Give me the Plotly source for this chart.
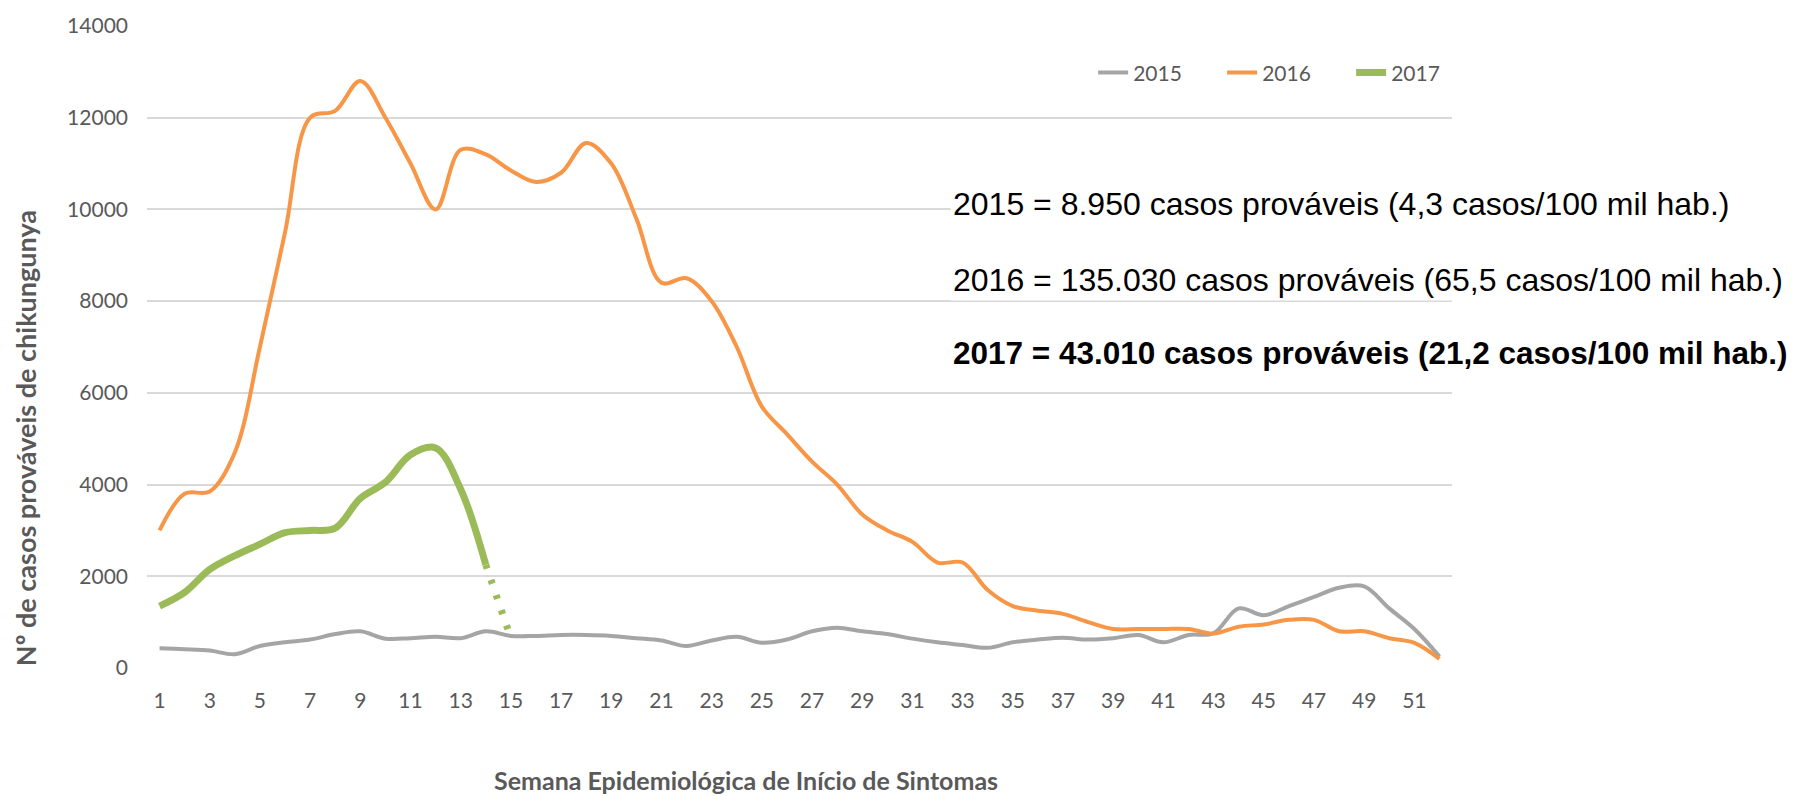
import plotly.graph_objects as go

weeks = list(range(1, 53))
cases_2015 = [430, 410, 380, 300, 480, 560, 620, 740, 800, 640,
              650, 680, 650, 800, 700, 700, 720, 720, 700, 650,
              600, 480, 600, 680, 550, 620, 800, 880, 800, 740,
              640, 560, 500, 440, 560, 620, 660, 620, 650, 720,
              560, 720, 760, 1300, 1150, 1350, 1550, 1750, 1780, 1300,
              850, 250]
cases_2016 = [3000, 3800, 3850, 4700, 7000, 9500, 12000, 12150, 12800, 12000,
              11000, 10000, 11300, 11200, 10850, 10600, 10800, 11450, 11000, 9800,
              8400, 8500, 8000, 7000, 5700, 5100, 4500, 4000, 3350, 3000,
              2750, 2300, 2300, 1700, 1350, 1250, 1180, 1000, 850, 850,
              850, 850, 750, 900, 950, 1050, 1050, 800, 800, 650,
              550, 200]
weeks_2017 = list(range(1, 15))
cases_2017 = [1350, 1650, 2150, 2450, 2700, 2950, 3000, 3050, 3700, 4050,
              4650, 4800, 3900, 2250]
weeks_2017_prov = [14, 15]
cases_2017_prov = [2250, 650]

tick_vals = list(range(1, 52, 2))
y_ticks = [0, 2000, 4000, 6000, 8000, 10000, 12000, 14000]

summary_lines = [
    "2015 = 8.950 casos prováveis (4,3 casos/100 mil hab.)",
    "2016 = 135.030 casos prováveis (65,5 casos/100 mil hab.)",
    "<b>2017 = 43.010 casos prováveis (21,2 casos/100 mil hab.)</b>",
]

GRAY, ORANGE, GREEN = "#A5A5A5", "#F79646", "#9BBB59"
TXT = "#595959"
FONT = "Lato"

fig = go.Figure()
fig.add_trace(go.Scatter(x=weeks, y=cases_2015, name="2015", mode="lines",
                         line=dict(color=GRAY, width=4, shape="spline", smoothing=1)))
fig.add_trace(go.Scatter(x=weeks, y=cases_2016, name="2016", mode="lines",
                         line=dict(color=ORANGE, width=4, shape="spline", smoothing=1)))
fig.add_trace(go.Scatter(x=weeks_2017_prov, y=cases_2017_prov, name="2017 (provisório)",
                         mode="lines", showlegend=False,
                         line=dict(color=GREEN, width=7, dash="4px,12px")))
fig.add_trace(go.Scatter(x=weeks_2017, y=cases_2017, name="2017", mode="lines",
                         line=dict(color=GREEN, width=7, shape="spline", smoothing=1)))

ann = []
for txt, yy, fs in zip(summary_lines, [0.723, 0.6045, 0.49], [32, 32, 31.5]):
    ann.append(dict(text=txt, xref="paper", yref="paper", x=0.615, y=yy,
                    xanchor="left", yanchor="middle", showarrow=False,
                    bgcolor="white", borderpad=2,
                    font=dict(family="Liberation Sans", size=fs, color="black")))
ann.append(dict(text="<b>Nº de casos prováveis de chikungunya</b>", xref="paper", yref="paper",
                x=-0.0935, y=0.358, textangle=-90, showarrow=False,
                xanchor="center", yanchor="middle",
                font=dict(family=FONT, size=27, color=TXT)))
ann.append(dict(text="<b>Semana Epidemiológica de Início de Sintomas</b>", xref="paper", yref="paper",
                x=0.459, y=-0.174, showarrow=False, xanchor="center", yanchor="middle",
                font=dict(family=FONT, size=25, color=TXT)))

fig.update_layout(
    width=1800, height=796,
    margin=dict(l=147, r=348, t=20, b=128),
    plot_bgcolor="white", paper_bgcolor="white",
    font=dict(family=FONT, size=21, color=TXT),
    showlegend=True,
    legend=dict(orientation="h", x=0.725, y=0.927, xanchor="left", yanchor="middle",
                font=dict(family=FONT, size=21, color=TXT),
                traceorder="normal", bgcolor="rgba(0,0,0,0)",
                entrywidth=84, entrywidthmode="pixels"),
    annotations=ann,
    xaxis=dict(range=[0.5, 52.5], tickmode="array", tickvals=tick_vals,
               ticktext=[str(v) for v in tick_vals], showgrid=False, zeroline=False,
               showline=False, ticks="", ticklabelstandoff=18,
               tickfont=dict(family=FONT, size=21, color=TXT)),
    yaxis=dict(range=[0, 14000], tickmode="array", tickvals=y_ticks,
               ticktext=[str(v) for v in y_ticks], showgrid=True, gridcolor="#D9D9D9",
               gridwidth=1.5, zeroline=False, showline=False, ticks="",
               ticklabelstandoff=18,
               tickfont=dict(family=FONT, size=21, color=TXT)),
)

fig.write_html("out.html", config={"displayModeBar": False},
               post_script="document.body.style.margin='0';document.body.style.overflow='hidden';")
